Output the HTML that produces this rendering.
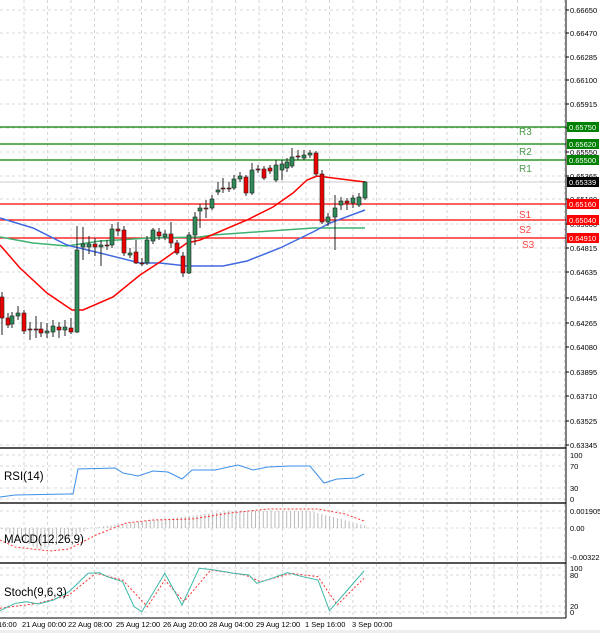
<!DOCTYPE html>
<html><head><meta charset="utf-8"><style>
html,body{margin:0;padding:0;background:#fff;}
svg{display:block;font-family:"Liberation Sans",sans-serif;}
</style></head><body>
<svg id="s" width="600" height="633" viewBox="0 0 600 633" xmlns="http://www.w3.org/2000/svg"></svg>
<script>
const s=document.getElementById('s');let h='';
const W=566;
for(let x=24;x<W;x+=23.5){h+=`<line x1="${x}" y1="0" x2="${x}" y2="618" stroke="#ccc" stroke-dasharray="3,3" stroke-width="0.8"/>`;}
const pl=[["0.66650",10],["0.66470",33],["0.66285",57],["0.66100",80],["0.65915",104],["0.65735",128],["0.65550",152],["0.65365",176],["0.65180",199],["0.65000",224],["0.64815",248],["0.64635",272],["0.64445",298],["0.64265",323],["0.64080",347],["0.63895",372],["0.63710",396],["0.63525",421],["0.63345",445]];
pl.forEach(([t,y])=>{h+=`<line x1="0" y1="${y}" x2="${W}" y2="${y}" stroke="#ccc" stroke-dasharray="3,3" stroke-width="0.8"/><line x1="${W}" y1="${y}" x2="${W+3}" y2="${y}" stroke="#000"/><text x="570" y="${y+3}" font-size="7.5">${t}</text>`;});
[[466,"70"],[488,"30"],[455,"100"],[499,"0"]].forEach(([y,t])=>{h+=`<line x1="0" y1="${y}" x2="${W}" y2="${y}" stroke="#ccc" stroke-dasharray="3,3" stroke-width="0.8"/><text x="570" y="${y+3}" font-size="7.5">${t}</text>`;});
[[511,"0.001905"],[528,"0.00"],[557,"-0.003223"]].forEach(([y,t])=>{h+=`<line x1="0" y1="${y}" x2="${W}" y2="${y}" stroke="#ccc" stroke-dasharray="3,3" stroke-width="0.8"/><text x="570" y="${y+3}" font-size="7.5">${t}</text>`;});
[[568,"100"],[575,"80"],[606,"20"],[612,"0"]].forEach(([y,t])=>{h+=`<line x1="0" y1="${y}" x2="${W}" y2="${y}" stroke="#ccc" stroke-dasharray="3,3" stroke-width="0.8"/><text x="570" y="${y+3}" font-size="7.5">${t}</text>`;});
const lv=[[127,"#008000","R3","0.65750"],[144,"#008000","R2","0.65620"],[160,"#008000","R1","0.65500"],[204,"#f00","S1","0.65160"],[220,"#f00","S2","0.65040"],[238,"#f00","S3","0.64910"]];
h+=`<line x1="0" y1="182" x2="${W}" y2="182" stroke="#ccc" stroke-width="1"/>`;
lv.forEach(([y,c])=>{h+=`<line x1="0" y1="${y}" x2="${W}" y2="${y}" stroke="${c}" stroke-width="1.3"/>`;});
[["R3",135],["R2",155],["R1",172],["S1",218],["S2",233],["S3",248]].forEach(([t,y],i)=>{h+=`<text x="${i==5?522:519}" y="${y}" font-size="10" fill="${i<3?'#4a9a4a':'#f44'}">${t}</text>`;});
const pth=(p,c,w,d)=>`<polyline points="${p.map(q=>q.join(',')).join(' ')}" fill="none" stroke="${c}" stroke-width="${w}" ${d?'stroke-dasharray="'+d+'"':''}/>`;
h+=pth([[0,237],[33,243],[67,246],[100,241],[150,238],[200,237],[213,235],[313,228],[365,228]],"#3cb371",1.5);
h+=pth([[0,218],[33,228],[67,245],[100,253],[140,263],[160,263],[187,266],[223,266],[247,261],[280,248],[313,232],[330,223],[365,210]],"#4169e1",1.5);
h+=pth([[0,245],[20,268],[47,293],[72,310],[83,310],[113,297],[140,275],[160,262],[187,243],[200,240],[247,220],[273,207],[293,193],[307,180],[317,176],[365,182]],"#f00",1.5);
const C=[[2,297,318,292,335,0],[8,318,325,313,328,0],[12,316,324,312,328,1],[18,313,316,306,320,1],[24,313,331,310,334,0],[30,329,329,322,340,0],[36,329,329,316,338,0],[41,329,333,322,337,0],[47,331,333,323,338,1],[53,326,332,320,337,1],[59,327,330,322,338,0],[65,327,330,320,336,1],[71,328,332,318,334,0],[77,250,332,226,333,1],[83,244,247,227,260,1],[89,244,247,236,254,1],[95,244,247,238,256,0],[101,245,247,240,266,1],[107,245,245,240,250,0],[112,229,245,224,248,1],[118,229,231,222,236,0],[124,230,253,226,256,0],[130,253,255,248,258,1],[136,252,263,240,264,0],[142,263,263,258,266,0],[147,240,263,236,265,1],[153,230,241,228,244,1],[159,232,236,228,240,0],[165,234,237,230,240,1],[171,234,243,222,248,0],[177,243,253,240,255,0],[183,256,273,252,277,0],[189,235,273,232,274,1],[195,217,235,212,245,1],[200,208,211,204,228,1],[206,208,208,200,218,0],[212,199,208,195,210,1],[218,190,192,182,195,1],[223,188,188,178,193,0],[229,188,188,182,192,0],[234,179,188,175,190,1],[240,176,179,172,182,1],[246,177,193,175,196,0],[252,170,193,163,195,1],[258,169,169,165,173,0],[264,169,178,166,180,0],[270,168,171,165,174,0],[276,165,180,160,182,1],[282,164,170,160,180,1],[287,162,168,158,172,1],[292,157,166,148,168,1],[298,156,157,150,160,0],[304,155,158,150,160,1],[310,153,155,150,158,1],[316,153,174,151,176,0],[322,174,222,170,224,0],[328,217,222,213,226,1],[335,208,217,195,250,1],[341,201,205,197,210,1],[347,201,203,198,210,0],[353,198,203,195,208,1],[359,197,205,193,207,1],[365,182,198,181,200,1]];
C.forEach(([x,a,b,w1,w2,g])=>{if(b-a<1)b=a+1;h+=`<line x1="${x}" y1="${w1}" x2="${x}" y2="${w2}" stroke="#222" stroke-width="1"/><rect x="${x-2}" y="${a}" width="4" height="${b-a}" fill="${g?'#2e8b57':'#e00'}" stroke="#222" stroke-width="0.6"/>`;});
[448,503,563].forEach(y=>{h+=`<rect x="0" y="${y-1}" width="${W}" height="2" fill="#555"/>`;});
h+=`<line x1="${W}" y1="0" x2="${W}" y2="618" stroke="#000"/><line x1="0" y1="618" x2="${W}" y2="618" stroke="#000"/>`;
lv.forEach(([y,c,,t])=>{h+=`<rect x="567" y="${y-5}" width="32" height="10" fill="${c=='#f00'?'#f00':'#008000'}"/><text x="569" y="${y+3}" font-size="7.5" fill="#fff">${t}</text>`;});
h+=`<rect x="567" y="177" width="32" height="10" fill="#000"/><text x="569" y="185" font-size="7.5" fill="#fff">0.65339</text>`;
const rx=[[0,497],[15,495],[69,494],[73,494],[78,469],[115,468],[123,473],[138,476],[153,471],[168,472],[182,479],[192,470],[215,470],[238,465],[253,470],[268,467],[291,466],[310,466],[324,483],[337,479],[356,478],[364,474]];
h+=pth(rx,"#3d8fe8",1);
h+=`<text x="4" y="480" font-size="11.5">RSI(14)</text>`;
for(let x=2;x<=365;x+=3.9){let v;if(x<90){v=(x<40?x/40:(90-x)/50)*22;h+=`<line x1="${x}" y1="528" x2="${x}" y2="${528+v}" stroke="#bbb"/>`;}else{let t;if(x<230)t=(x-90)/140;else if(x<310)t=1;else t=1-(x-310)/55*0.85;v=t*17;h+=`<line x1="${x}" y1="528" x2="${x}" y2="${528-v}" stroke="#bbb"/>`;}}
h+=pth([[0,540],[15,547],[50,551],[69,549],[96,535],[126,523],[153,520],[192,519],[230,513],[268,509],[318,509],[345,514],[364,521]],"#f33",1,"2,2");
h+=`<text x="4" y="543" font-size="11.5">MACD(12,26,9)</text>`;
const sm=[[0,512],[40,490],[70,485],[100,492],[140,480],[180,455],[230,400],[260,398],[280,410],[320,425],[350,500],[370,515],[430,400],[475,495],[520,385],[560,390],[610,400],[650,405],[670,430],[710,415],[750,398],[790,410],[830,420],[860,512],[950,393]];
const ss=[[0,505],[100,490],[180,465],[250,400],[320,420],[385,500],[430,420],[480,485],[550,390],[640,405],[680,425],[760,400],[830,410],[880,495],[950,415]];
const cv=p=>p.map(([x,y])=>[(x/2.61).toFixed(1),(y/3+440).toFixed(1)]);
h+=pth(cv(ss),"#f33",1,"2,2");
h+=pth(cv(sm),"#3cb8a8",1);
h+=`<text x="4" y="596" font-size="11.5">Stoch(9,6,3)</text>`;
[["16:00",-2],["21 Aug 00:00",22],["22 Aug 08:00",68],["25 Aug 12:00",116],["26 Aug 20:00",163],["28 Aug 04:00",209],["29 Aug 12:00",256],["1 Sep 16:00",305],["3 Sep 00:00",352]].forEach(([t,x])=>{h+=`<text x="${x}" y="627" font-size="7.5">${t}</text>`;});
h+=`<rect x="0" y="630" width="600" height="3" fill="#eee"/>`;
s.innerHTML=h;
</script>
</body></html>
